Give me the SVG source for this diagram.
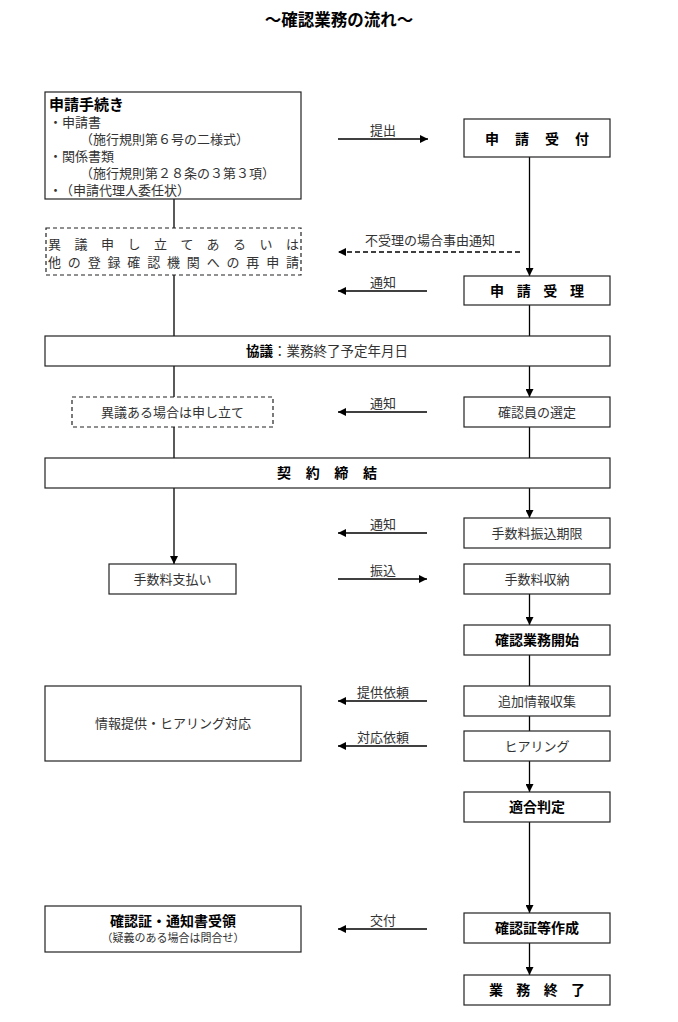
<svg xmlns="http://www.w3.org/2000/svg" width="678" height="1022" viewBox="0 0 678 1022">
<style>
text{font-family:"Noto Sans CJK JP","Noto Sans",sans-serif;}
.box{fill:#fff;stroke:#222;stroke-width:1.2;}
.dbox{fill:#fff;stroke:#222;stroke-width:1.2;stroke-dasharray:4 3;}
.n{font-size:13px;fill:#333;}
.b{font-size:14px;font-weight:bold;fill:#000;}
.lbl{font-size:13px;fill:#333;text-anchor:middle;}
.c{text-anchor:middle;}
.ln{stroke:#000;stroke-width:1.3;fill:none;}
.dl{stroke:#000;stroke-width:1.3;fill:none;stroke-dasharray:5 3;}
</style>
<defs>
<marker id="ah" markerUnits="userSpaceOnUse" markerWidth="9" markerHeight="8" refX="8" refY="4" orient="auto">
<path d="M0,0 L8,4 L0,8 z" fill="#000"/>
</marker>
</defs>
<rect width="678" height="1022" fill="#fff"/>
<text x="339" y="26" class="c" font-size="16.5" font-weight="bold" fill="#000">～確認業務の流れ～</text>

<g id="connectors">
<line class="ln" x1="174" y1="199" x2="174" y2="228"/>
<line class="ln" x1="174" y1="275" x2="174" y2="336"/>
<line class="ln" x1="174" y1="366" x2="174" y2="397"/>
<line class="ln" x1="174" y1="427" x2="174" y2="458"/>
<line class="ln" x1="174" y1="488" x2="174" y2="564" marker-end="url(#ah)"/>
<line class="ln" x1="529.5" y1="157" x2="529.5" y2="276" marker-end="url(#ah)"/>
<line class="ln" x1="529.5" y1="305" x2="529.5" y2="336"/>
<line class="ln" x1="529.5" y1="366" x2="529.5" y2="397" marker-end="url(#ah)"/>
<line class="ln" x1="529.5" y1="427" x2="529.5" y2="458"/>
<line class="ln" x1="529.5" y1="488" x2="529.5" y2="518" marker-end="url(#ah)"/>
<line class="ln" x1="529.5" y1="594" x2="529.5" y2="625" marker-end="url(#ah)"/>
<line class="ln" x1="529.5" y1="655" x2="529.5" y2="686"/>
<line class="ln" x1="529.5" y1="716" x2="529.5" y2="731"/>
<line class="ln" x1="529.5" y1="761" x2="529.5" y2="792" marker-end="url(#ah)"/>
<line class="ln" x1="529.5" y1="822" x2="529.5" y2="913" marker-end="url(#ah)"/>
<line class="ln" x1="529.5" y1="943" x2="529.5" y2="975" marker-end="url(#ah)"/>

<line class="ln" x1="338" y1="139" x2="428" y2="139" marker-end="url(#ah)"/>
<text class="lbl" x="383" y="135">提出</text>
<line class="dl" x1="520" y1="252" x2="338" y2="252" marker-end="url(#ah)"/>
<text class="lbl" x="430" y="245">不受理の場合事由通知</text>
<line class="ln" x1="427" y1="291" x2="338" y2="291" marker-end="url(#ah)"/>
<text class="lbl" x="383" y="287">通知</text>
<line class="ln" x1="427" y1="412" x2="338" y2="412" marker-end="url(#ah)"/>
<text class="lbl" x="383" y="408">通知</text>
<line class="ln" x1="427" y1="533" x2="338" y2="533" marker-end="url(#ah)"/>
<text class="lbl" x="383" y="529">通知</text>
<line class="ln" x1="338" y1="579" x2="427" y2="579" marker-end="url(#ah)"/>
<text class="lbl" x="383" y="575">振込</text>
<line class="ln" x1="427" y1="701" x2="338" y2="701" marker-end="url(#ah)"/>
<text class="lbl" x="383" y="697">提供依頼</text>
<line class="ln" x1="427" y1="746" x2="338" y2="746" marker-end="url(#ah)"/>
<text class="lbl" x="383" y="742">対応依頼</text>
<line class="ln" x1="427" y1="929" x2="338" y2="929" marker-end="url(#ah)"/>
<text class="lbl" x="383" y="925">交付</text>
</g>

<g id="n-tetsuzuki">
<rect class="box" x="45" y="92" width="256" height="107"/>
<text x="49" y="110" font-size="15" font-weight="bold" fill="#000">申請手続き</text>
<text class="n" x="49" y="127">・申請書</text>
<text class="n" x="80" y="144">（施行規則第６号の二様式）</text>
<text class="n" x="49" y="161">・関係書類</text>
<text class="n" x="80" y="178">（施行規則第２８条の３第３項）</text>
<text class="n" x="49" y="195">・<tspan x="60">（申請代理人委任状）</tspan></text>
</g>

<g id="n-uketsuke">
<rect class="box" x="464" y="119" width="146" height="38"/>
<text class="b c" x="537" y="144" textLength="104" lengthAdjust="spacing">申請受付</text>
</g>

<g id="n-igi1">
<rect class="dbox" x="46" y="228" width="255" height="47"/>
<text class="n" x="48" y="249" textLength="251" lengthAdjust="spacing">異議申し立てあるいは</text>
<text class="n" x="48" y="267" textLength="251" lengthAdjust="spacing">他の登録確認機関への再申請</text>
</g>

<g id="n-juri">
<rect class="box" x="464" y="276" width="146" height="29"/>
<text class="b c" x="537" y="296" textLength="94" lengthAdjust="spacing">申請受理</text>
</g>

<g id="n-kyogi">
<rect class="box" x="45" y="336" width="565" height="30"/>
<text x="327" y="356" class="c" font-size="13.5"><tspan font-weight="bold" fill="#000">協議</tspan><tspan fill="#333">：業務終了予定年月日</tspan></text>
</g>

<g id="n-igi2">
<rect class="dbox" x="72" y="397" width="201" height="30"/>
<text class="n c" x="172.5" y="417">異議ある場合は申し立て</text>
</g>

<g id="n-sentei">
<rect class="box" x="464" y="397" width="146" height="30"/>
<text class="n c" x="537" y="417">確認員の選定</text>
</g>

<g id="n-keiyaku">
<rect class="box" x="45" y="458" width="565" height="30"/>
<text class="b c" x="327" y="478" textLength="100" lengthAdjust="spacing">契約締結</text>
</g>

<g id="n-kigen">
<rect class="box" x="464" y="518" width="146" height="30"/>
<text class="n c" x="537" y="538">手数料振込期限</text>
</g>

<g id="n-shiharai">
<rect class="box" x="109" y="564" width="127" height="30"/>
<text class="n c" x="172.5" y="584">手数料支払い</text>
</g>

<g id="n-shuno">
<rect class="box" x="464" y="564" width="146" height="30"/>
<text class="n c" x="537" y="584">手数料収納</text>
</g>

<g id="n-kaishi">
<rect class="box" x="464" y="625" width="146" height="30"/>
<text class="b c" x="537" y="645">確認業務開始</text>
</g>

<g id="n-tsuika">
<rect class="box" x="464" y="686" width="146" height="30"/>
<text class="n c" x="537" y="706">追加情報収集</text>
</g>

<g id="n-hearing">
<rect class="box" x="464" y="731" width="146" height="30"/>
<text class="n c" x="537" y="751">ヒアリング</text>
</g>

<g id="n-joho">
<rect class="box" x="45" y="686" width="256" height="75"/>
<text class="n c" x="173" y="728">情報提供・ヒアリング対応</text>
</g>

<g id="n-hantei">
<rect class="box" x="464" y="792" width="146" height="30"/>
<text class="b c" x="537" y="812">適合判定</text>
</g>

<g id="n-juryo">
<rect class="box" x="45" y="906" width="256" height="46"/>
<text class="b c" x="173" y="926">確認証・通知書受領</text>
<text class="c" x="173" y="942" font-size="11" fill="#333">（疑義のある場合は問合せ）</text>
</g>

<g id="n-sakusei">
<rect class="box" x="464" y="913" width="146" height="30"/>
<text class="b c" x="537" y="933">確認証等作成</text>
</g>

<g id="n-shuryo">
<rect class="box" x="464" y="975" width="146" height="30"/>
<text class="b c" x="537" y="995" textLength="96" lengthAdjust="spacing">業務終了</text>
</g>
</svg>
